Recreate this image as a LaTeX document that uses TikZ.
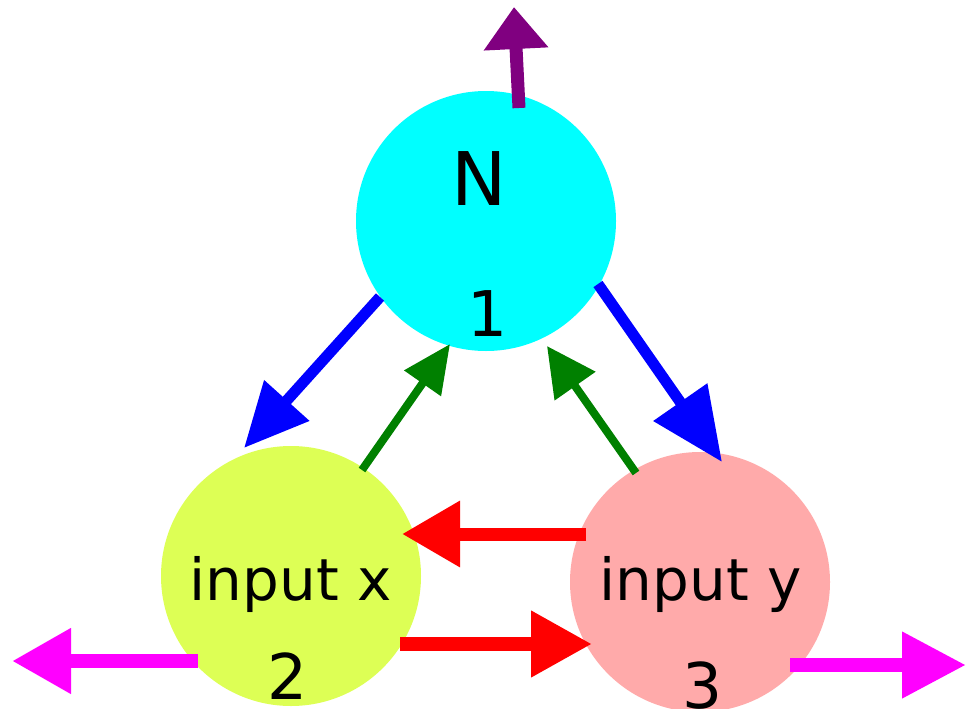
\documentclass[tikz,border=0pt]{standalone}
\usepackage{fontspec}
\setmainfont{DejaVu Sans}
\usetikzlibrary{arrows.meta,calc}
\definecolor{nodecyan}{RGB}{0,255,255}
\definecolor{nodelime}{RGB}{221,255,85}
\definecolor{nodepink}{RGB}{255,170,170}
\definecolor{edgegreen}{RGB}{0,128,0}
\definecolor{edgepurple}{RGB}{128,0,128}
\definecolor{edgemagenta}{RGB}{255,0,255}
\definecolor{edgeblue}{RGB}{0,0,255}
\definecolor{edgered}{RGB}{255,0,0}
\tikzset{
  ball/.style={circle, minimum size=260pt, inner sep=0pt, draw=none},
  lbl/.style={anchor=base, inner sep=0pt, text=black},
  bigtxt/.style={lbl, font=\fontsize{74}{80}\selectfont},
  numtxt/.style={lbl, font=\fontsize{63}{70}\selectfont},
  wordtxt/.style={lbl, font=\fontsize{58}{64}\selectfont},
  % colour, shaft width, head length, head width
  arr/.style n args={4}{draw=#1, line width=#2, line cap=butt,
    -{Triangle[length=#3, width=#4]}},
}
\begin{document}
\begin{tikzpicture}[x=1pt, y=-1pt]
\useasboundingbox (0,0) rectangle (966,709);

% the three nodes
\node[ball, fill=nodecyan] (N) at (486,221) {};
\node[ball, fill=nodelime] (X) at (291,576) {};
\node[ball, fill=nodepink] (Y) at (700,582) {};

% their labels
\node[bigtxt]  (Nname) at (479,205) {N};
\node[numtxt]  (Nnum)  at (487.5,336.7) {1};
\node[wordtxt] (Xname) at (290.7,600) {input x};
\node[numtxt]  (Xnum)  at (287.5,699) {2};
\node[wordtxt] (Yname) at (700.5,600) {input y};
\node[numtxt]  (Ynum)  at (702.5,708) {3};

% free ends of the outgoing arrows
\coordinate (outN) at (514,7);
\coordinate (outX) at (12,661);
\coordinate (outY) at (966,665);

% outputs
\draw[arr={edgepurple}{13pt}{42pt}{62pt}] ($(N)+(33,-113)$) -- (outN);
\draw[arr={edgemagenta}{14pt}{59pt}{62pt}] ($(X)+(-93,85)$) -- (outX);
\draw[arr={edgemagenta}{14pt}{64pt}{63pt}] ($(Y)+(90,83)$) -- (outY);

% N to the inputs
\draw[arr={edgeblue}{11pt}{64pt}{58pt}] ($(N)+(-106,76)$) -- ($(X)+(-47,-128)$);
\draw[arr={edgeblue}{11pt}{73pt}{63pt}] ($(N)+(112,63)$) -- ($(Y)+(22,-120)$);

% inputs back to N
\draw[arr={edgegreen}{8pt}{48pt}{43pt}] ($(X)+(71,-106)$) -- ($(N)+(-36,123)$);
\draw[arr={edgegreen}{8pt}{49pt}{48pt}] ($(Y)+(-64,-109)$) -- ($(N)+(61,125)$);

% between the inputs
\draw[arr={edgered}{13pt}{58pt}{63pt}] ($(Y)+(-114,-48)$) -- ($(X)+(111,-42)$);
\draw[arr={edgered}{14pt}{61pt}{63pt}] ($(X)+(109,68)$) -- ($(Y)+(-108,62)$);
\end{tikzpicture}
\end{document}
